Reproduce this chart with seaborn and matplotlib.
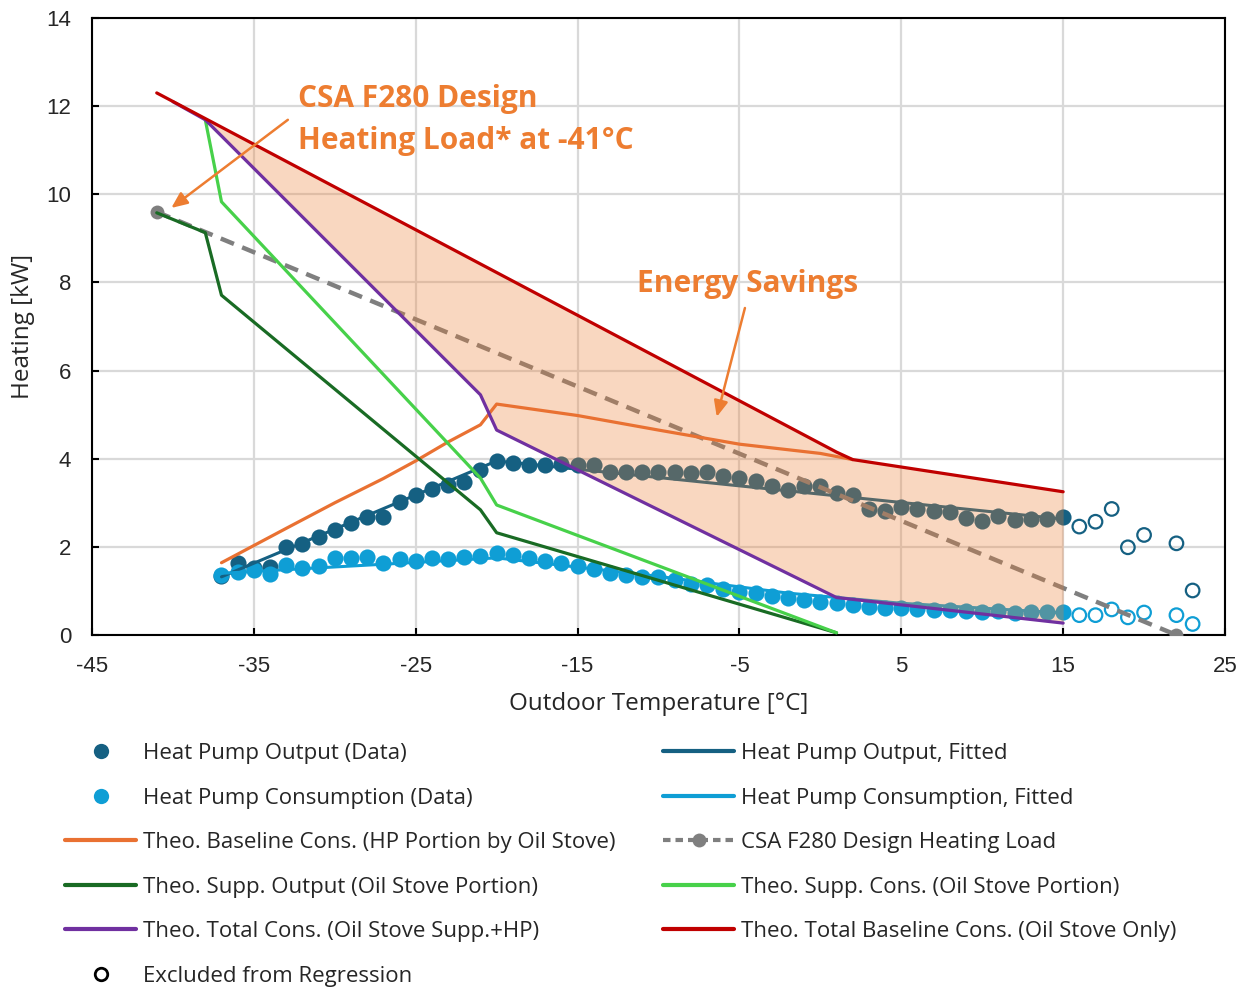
import numpy as np
import matplotlib
matplotlib.use("Agg")
import matplotlib.pyplot as plt
from matplotlib.lines import Line2D
import seaborn as sns

# ---------------- data ----------------
temps = [-37, -36, -35, -34, -33, -32, -31, -30, -29, -28, -27, -26, -25, -24,
         -23, -22, -21, -20, -19, -18, -17, -16, -15, -14, -13, -12, -11, -10,
         -9, -8, -7, -6, -5, -4, -3, -2, -1, 0, 1, 2, 3, 4, 5, 6, 7, 8, 9, 10,
         11, 12, 13, 14, 15]
hp_output = [1.35, 1.64, 1.52, 1.55, 1.99, 2.06, 2.22, 2.38, 2.53, 2.68, 2.68,
             3.02, 3.18, 3.31, 3.40, 3.48, 3.74, 3.95, 3.91, 3.86, 3.86, 3.88,
             3.86, 3.86, 3.69, 3.69, 3.70, 3.70, 3.69, 3.68, 3.70, 3.61, 3.56,
             3.50, 3.39, 3.30, 3.37, 3.37, 3.23, 3.18, 2.87, 2.82, 2.91, 2.86,
             2.82, 2.78, 2.65, 2.59, 2.70, 2.61, 2.63, 2.63, 2.67]
hp_consumption = [1.36, 1.42, 1.48, 1.38, 1.59, 1.53, 1.57, 1.74, 1.74, 1.76,
                  1.63, 1.72, 1.69, 1.74, 1.72, 1.76, 1.80, 1.85, 1.82, 1.74,
                  1.68, 1.63, 1.57, 1.50, 1.41, 1.36, 1.32, 1.32, 1.25, 1.16,
                  1.13, 1.04, 0.97, 0.95, 0.88, 0.83, 0.79, 0.76, 0.72, 0.68,
                  0.63, 0.61, 0.61, 0.59, 0.57, 0.57, 0.54, 0.52, 0.54, 0.51,
                  0.52, 0.52, 0.53]

excl_temps = [16, 17, 18, 19, 20, 22, 23]
excl_output = [2.46, 2.57, 2.86, 1.99, 2.27, 2.08, 1.01]
excl_consumption = [0.45, 0.45, 0.58, 0.40, 0.51, 0.45, 0.25]

fit_out_T = [-37, -20, 15]
fit_out = [1.32, 3.95, 2.63]
fit_cons_T = [-37, -20, -10, -2, 5, 15]
fit_cons = [1.40, 1.75, 1.33, 0.95, 0.72, 0.50]

base_hp_T = [-37, -33, -30, -27, -25, -23, -21, -20, -15, -10, -5, 0, 2]
base_hp = [1.64, 2.42, 3.00, 3.55, 3.95, 4.38, 4.77, 5.24, 4.98, 4.65, 4.33,
           4.12, 3.98]

supp_out_T = [-41, -38, -37, -21, -20, -10, 1]
supp_out = [9.58, 9.13, 7.71, 2.84, 2.32, 1.24, 0.05]

supp_cons_T = [-38, -37, -21, -20, 1]
supp_cons = [11.69, 9.83, 3.56, 2.95, 0.05]

total_T = [-40, -38, -21, -20, 1, 15]
total = [12.10, 11.69, 5.45, 4.65, 0.85, 0.27]

base_total_T = [-41, 1, 2, 15]
base_total = [12.30, 4.15, 3.98, 3.25]

design_T = [-41, 22]
design = [9.6, 0.0]

x_ticks = [-45, -35, -25, -15, -5, 5, 15, 25]
y_ticks = [0, 2, 4, 6, 8, 10, 12, 14]

# ---------------- style ----------------
C_OUT = "#156082"
C_CONS = "#0F9ED5"
C_BASE_HP = "#E97132"
C_SUPP_OUT = "#196B24"
C_SUPP_CONS = "#47D14A"
C_TOTAL = "#7030A0"
C_BASE_TOT = "#C00000"
C_DESIGN = "#7F7F7F"
C_NOTE = "#ED7D31"

sns.set_theme(style="white")
plt.rcParams["font.family"] = ["Open Sans", "DejaVu Sans"]
plt.rcParams["axes.unicode_minus"] = False
TEXT = "#262626"

fig = plt.figure(figsize=(12.47, 9.88), dpi=100)
ax = fig.add_axes([92 / 1247, 1 - 635 / 988, (1225 - 92) / 1247, (635 - 18) / 988])

# measured points
sns.scatterplot(x=temps, y=hp_output, ax=ax, color=C_OUT, s=135, linewidth=0,
                zorder=3, legend=False)
sns.scatterplot(x=temps, y=hp_consumption, ax=ax, color=C_CONS, s=135,
                linewidth=0, zorder=3, legend=False)
sns.scatterplot(x=excl_temps, y=excl_output, ax=ax, facecolor="none",
                edgecolor=C_OUT, s=95, linewidth=1.6, zorder=3, legend=False)
sns.scatterplot(x=excl_temps, y=excl_consumption, ax=ax, facecolor="none",
                edgecolor=C_CONS, s=95, linewidth=1.6, zorder=3, legend=False)

# regression fits
sns.lineplot(x=fit_out_T, y=fit_out, ax=ax, color=C_OUT, linewidth=2.2,
             zorder=3.5, legend=False)
sns.lineplot(x=fit_cons_T, y=fit_cons, ax=ax, color=C_CONS, linewidth=2.2,
             zorder=3.5, legend=False)

# design heating load
sns.lineplot(x=design_T, y=design, ax=ax, color=C_DESIGN, linewidth=3.2,
             linestyle=(0, (3.2, 2.0)), marker="o", markersize=10,
             markeredgewidth=0, zorder=3.6, legend=False)

# savings band between the two total-consumption curves
grid = np.linspace(-38, 15, 400)
upper = np.interp(grid, base_total_T, base_total)
lower = np.interp(grid, total_T, total)
ax.fill_between(grid, lower, upper, color=C_NOTE, alpha=0.3, linewidth=0,
                zorder=4)

# theoretical curves
for xs, ys, c in [(base_hp_T, base_hp, C_BASE_HP),
                  (supp_out_T, supp_out, C_SUPP_OUT),
                  (supp_cons_T, supp_cons, C_SUPP_CONS),
                  (total_T, total, C_TOTAL),
                  (base_total_T, base_total, C_BASE_TOT)]:
    sns.lineplot(x=xs, y=ys, ax=ax, color=c, linewidth=2.3, zorder=5,
                 legend=False)

# axes
ax.set_xlim(-45, 25)
ax.set_ylim(0, 14)
ax.set_xticks(x_ticks)
ax.set_yticks(y_ticks)
ax.grid(True, color="#D9D9D9", linewidth=1.6, zorder=0)
ax.set_axisbelow(True)
for sp in ax.spines.values():
    sp.set_visible(True)
    sp.set_color("black")
    sp.set_linewidth(1.5)
ax.tick_params(axis="both", direction="in", length=5, width=1.5,
               color="black", labelsize=16, pad=15, labelcolor=TEXT,
               bottom=True, left=True, top=False, right=False)
for lab in ax.get_xticklabels() + ax.get_yticklabels():
    lab.set_family(["Liberation Sans", "DejaVu Sans"])
ax.set_xlabel("Outdoor Temperature [°C]", fontsize=17.5, color=TEXT,
              labelpad=11)
ax.set_ylabel("Heating [kW]", fontsize=17.5, color=TEXT, labelpad=8)

# annotations
ax.text(-32.3, 11.69, "CSA F280 Design\nHeating Load* at -41°C", color=C_NOTE,
        fontsize=21.5, fontweight="bold", ha="left", va="center",
        linespacing=1.5, zorder=6)
ax.annotate("", xy=(-40.1, 9.69), xytext=(-32.9, 11.69),
            arrowprops=dict(arrowstyle="-|>,head_length=0.8,head_width=0.35",
                            color=C_NOTE, lw=1.8, shrinkA=0, shrinkB=0),
            zorder=6)
ax.text(-11.3, 7.96, "Energy Savings", color=C_NOTE, fontsize=21.5,
        fontweight="bold", ha="left", va="center", zorder=6)
ax.annotate("", xy=(-6.4, 4.95), xytext=(-4.66, 7.42),
            arrowprops=dict(arrowstyle="-|>,head_length=0.8,head_width=0.35",
                            color=C_NOTE, lw=1.8, shrinkA=0, shrinkB=0),
            zorder=6)

# legend
def line_handle(c, **kw):
    return Line2D([], [], color=c, linewidth=3, **kw)

def dot_handle(c, **kw):
    return Line2D([], [], color=c, linestyle="none", marker="o",
                  markersize=11, **kw)

left_items = [
    (dot_handle(C_OUT, markeredgewidth=0), "Heat Pump Output (Data)"),
    (dot_handle(C_CONS, markeredgewidth=0), "Heat Pump Consumption (Data)"),
    (line_handle(C_BASE_HP), "Theo. Baseline Cons. (HP Portion by Oil Stove)"),
    (line_handle(C_SUPP_OUT), "Theo. Supp. Output (Oil Stove Portion)"),
    (line_handle(C_TOTAL), "Theo. Total Cons. (Oil Stove Supp.+HP)"),
    (Line2D([], [], linestyle="none", marker="o", markersize=9,
            markerfacecolor="none", markeredgecolor="black",
            markeredgewidth=2), "Excluded from Regression"),
]
right_items = [
    (line_handle(C_OUT), "Heat Pump Output, Fitted"),
    (line_handle(C_CONS), "Heat Pump Consumption, Fitted"),
    (line_handle(C_DESIGN, linestyle=(0, (1.8, 1.2)), marker="o",
                 markersize=10, markeredgewidth=0), "CSA F280 Design Heating Load"),
    (line_handle(C_SUPP_CONS), "Theo. Supp. Cons. (Oil Stove Portion)"),
    (line_handle(C_BASE_TOT), "Theo. Total Baseline Cons. (Oil Stove Only)"),
]

common = dict(loc="upper left", frameon=False, fontsize=16, handlelength=3.2,
              handletextpad=0.3, labelspacing=1.06, borderpad=0,
              borderaxespad=0, labelcolor=TEXT)
fig.legend([h for h, _ in left_items], [t for _, t in left_items],
           bbox_to_anchor=(65 / 1247, 1 - 743 / 988), **common)
fig.legend([h for h, _ in right_items], [t for _, t in right_items],
           bbox_to_anchor=(663 / 1247, 1 - 743 / 988), **common)

fig.savefig("out.png", dpi=100)
